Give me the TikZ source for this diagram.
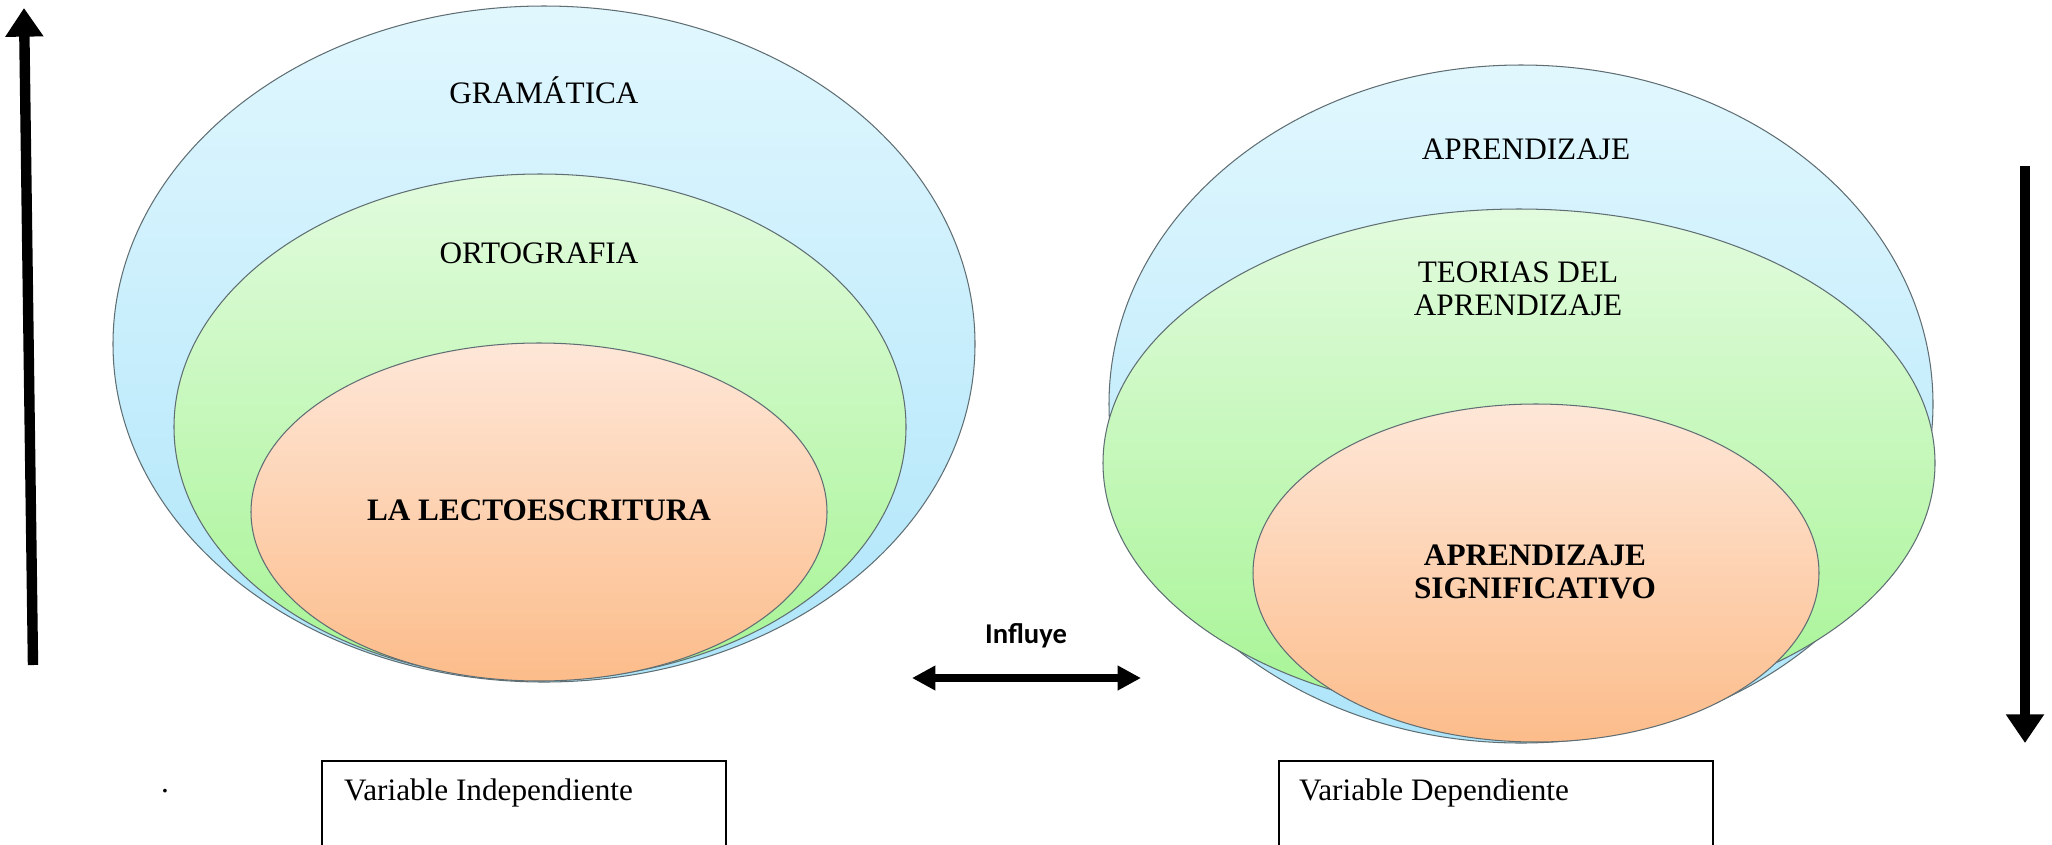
\documentclass[tikz,border=0pt]{standalone}
\usepackage{fontspec}
\setmainfont{Liberation Serif}
\newfontfamily\calibri{Carlito}
\usetikzlibrary{arrows.meta}

\definecolor{cieloA}{RGB}{225,247,254}
\definecolor{cieloB}{RGB}{174,229,250}
\definecolor{verdeA}{RGB}{226,251,222}
\definecolor{verdeB}{RGB}{166,244,148}
\definecolor{naranjaA}{RGB}{254,231,216}
\definecolor{naranjaB}{RGB}{252,188,138}
\definecolor{borde}{RGB}{95,110,115}

\newcommand{\tam}{\fontsize{12}{12.7}\selectfont}

\begin{document}
\begin{tikzpicture}[x=0.0135cm,y=-0.0135cm,
  every node/.style={font=\tam},
  conj/.style={draw=borde,line width=0.4pt},
  flecha/.style={line width=4pt,-{Triangle[width=14pt,length=11pt]}},
  doble/.style={line width=2.7pt,{Triangle[width=9pt,length=9pt]}-{Triangle[width=9pt,length=9pt]}},
  caja/.style={draw,line width=0.8pt}]

\clip (0,0) rectangle (2052,844);

%% conjunto izquierdo
\draw [conj,top color=cieloA,bottom color=cieloB] (544,344) ellipse [x radius=431,y radius=338];
\draw [conj,top color=verdeA,bottom color=verdeB] (540,427) ellipse [x radius=366,y radius=253];
\draw [conj,top color=naranjaA,bottom color=naranjaB] (539,512) ellipse [x radius=288,y radius=169];

\node (gram) at (544,90) {GRAMÁTICA};
\node (orto) at (539,253) {ORTOGRAFIA};
\node[font=\tam\bfseries] (lecto) at (539,510) {LA LECTOESCRITURA};

%% conjunto derecho
\draw [conj,top color=cieloA,bottom color=cieloB] (1521,404) ellipse [x radius=412,y radius=339];
\draw [conj,top color=verdeA,bottom color=verdeB] (1519,463) ellipse [x radius=416,y radius=254];
\draw [conj,top color=naranjaA,bottom color=naranjaB] (1536,573) ellipse [x radius=283,y radius=169];

\node (apre) at (1526,149) {APRENDIZAJE};
\node[align=center] (teor) at (1518,289) {TEORIAS DEL\\APRENDIZAJE};
\node[align=center,font=\tam\bfseries] (signi) at (1535,572) {APRENDIZAJE\\SIGNIFICATIVO};

%% flechas
\coordinate (bajoI) at (33,665); \coordinate (altoI) at (24,8);
\draw[flecha] (bajoI) -- (altoI);
\coordinate (altoD) at (2025,166); \coordinate (bajoD) at (2025,743);
\draw[flecha] (altoD) -- (bajoD);

\node[font=\calibri\fontsize{11}{13}\selectfont\bfseries] (infl) at (1026,636) {Influye};
\coordinate (izq) at (912,678); \coordinate (der) at (1141,678);
\draw[doble] (izq) -- (der);

%% variables
\node[anchor=base] (punto) at (165,792) {.};
\draw[caja] (322,761) rectangle (726,900);
\node[anchor=base west] (indep) at (335,800) {Variable Independiente};
\draw[caja] (1279,761) rectangle (1713,900);
\node[anchor=base west] (dep) at (1290,800) {Variable Dependiente};

\end{tikzpicture}
\end{document}
